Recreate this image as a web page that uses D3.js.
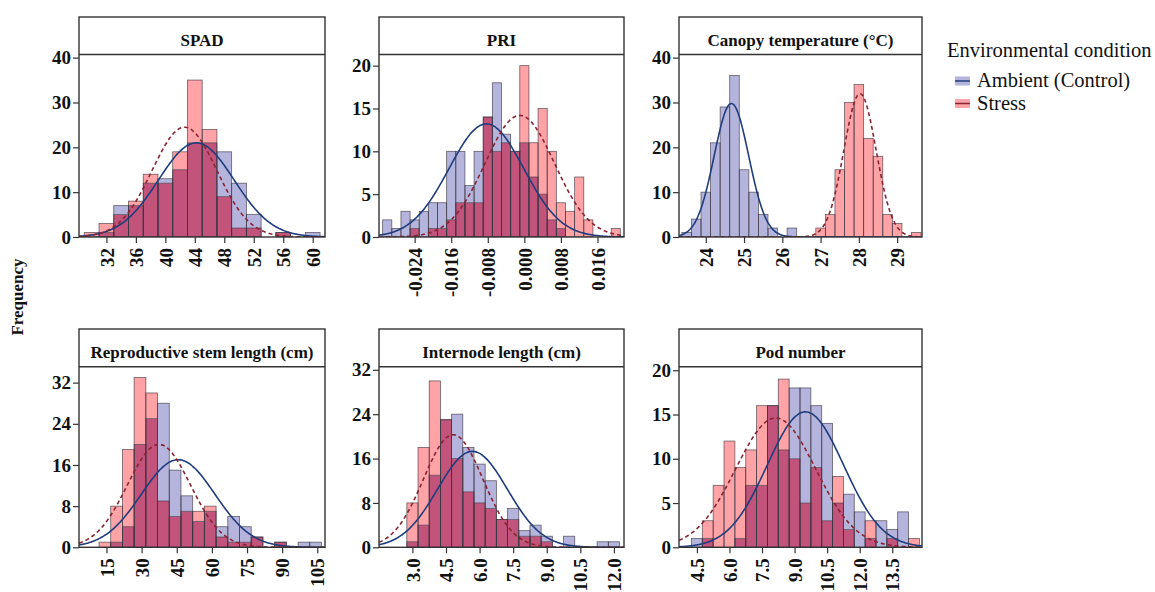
<!DOCTYPE html>
<html>
<head>
<meta charset="utf-8">
<script src="https://cdn.jsdelivr.net/npm/d3@7"></script>
<style>
  body { margin: 0; background: #fff; }
  svg { display: block; }
  text { font-family: "Liberation Serif", "DejaVu Serif", "Times New Roman", serif; }
</style>
</head>
<body>
<div id="chart"></div>
<script>
// ---- data ----
const titles = ['SPAD', 'PRI', 'Canopy temperature (°C)', 'Reproductive stem length (cm)', 'Internode length (cm)', 'Pod number'];
const groups = ['Ambient (Control)', 'Stress'];

// bins: first lower edge + width, then counts per bin
const spadStart = 29, spadWidth = 2;
const spadAmbient = [0, 1, 7, 7, 12, 13, 15, 21, 21, 19, 12, 5, 0, 1, 0, 1];
const spadStress  = [1, 3, 5, 8, 14, 12, 19, 35, 24, 9, 2, 2, 0, 1, 0, 0];
const spadTicks = [32, 36, 40, 44, 48, 52, 56, 60];
const spadYTicks = [0, 10, 20, 30, 40];
const spadFit = { ambient: [44.2, 5.13], stress: [42.6, 4.40] };

const priStart = -0.031, priWidth = 0.002;
const priAmbient = [2, 1, 3, 2, 3, 4, 4, 10, 10, 6, 10, 14, 18, 12, 10, 11, 7, 5, 2, 1, 0, 0, 0, 0, 0, 0];
const priStress  = [0, 0, 0, 1, 0, 1, 1, 2, 4, 4, 4, 14, 10, 11, 10, 20, 11, 15, 10, 4, 3, 7, 2, 0, 0, 1];
const priTicks = [-0.024, -0.016, -0.008, 0, 0.008, 0.016];
const priYTicks = [0, 5, 10, 15, 20];
const priFit = { ambient: [-0.0083, 0.00816], stress: [-0.001, 0.00759] };

const canopyStart = 23.375, canopyWidth = 0.25;
const canopyAmbient = [1, 4, 10, 21, 29, 36, 15, 10, 5, 2, 0, 2, 0, 0, 0, 0, 0, 0, 0, 0, 0, 0, 0, 0, 0];
const canopyStress  = [0, 0, 0, 0, 0, 0, 0, 0, 0, 0, 0, 0, 0, 0, 2, 5, 15, 30, 34, 22, 18, 5, 3, 0, 1];
const canopyTicks = [24, 25, 26, 27, 28, 29];
const canopyYTicks = [0, 10, 20, 30, 40];
const canopyFit = { ambient: [24.67, 0.452], stress: [28.03, 0.421] };

const stemStart = 11.8, stemWidth = 5;
const stemAmbient = [0, 1, 4, 20, 25, 28, 15, 10, 5, 7, 4, 6, 4, 2, 0, 1, 0, 1, 1];
const stemStress  = [1, 8, 19, 33, 30, 9, 6, 7, 7, 8, 2, 1, 1, 2, 0, 1, 0, 0, 0];
const stemTicks = [15, 30, 45, 60, 75, 90, 105];
const stemYTicks = [0, 8, 16, 24, 32];
const stemFit = { ambient: [45.6, 15.7], stress: [37.4, 13.46] };

const nodeStart = 2.75, nodeWidth = 0.5;
const nodeAmbient = [1, 4, 13, 23, 24, 18, 15, 12, 5, 7, 3, 4, 2, 0, 2, 0, 0, 1, 1];
const nodeStress  = [8, 18, 30, 23, 16, 10, 8, 7, 5, 5, 2, 2, 1, 0, 0, 0, 0, 0, 0];
const nodeTicks = [3.0, 4.5, 6.0, 7.5, 9.0, 10.5, 12.0];
const nodeYTicks = [0, 8, 16, 24, 32];
const nodeFit = { ambient: [5.68, 1.557], stress: [4.82, 1.327] };

const podStart = 4.25, podWidth = 0.5;
const podAmbient = [1, 1, 0, 0, 1, 7, 7, 16, 11, 18, 18, 16, 14, 5, 6, 4, 1, 3, 2, 4, 0];
const podStress  = [0, 3, 7, 12, 9, 11, 16, 16, 19, 10, 5, 9, 3, 8, 2, 0, 3, 0, 1, 0, 1];
const podTicks = [4.5, 6.0, 7.5, 9.0, 10.5, 12.0, 13.5];
const podYTicks = [0, 5, 10, 15, 20];
const podFit = { ambient: [9.5, 1.76], stress: [8.13, 1.844] };

// ---- layout ----
const W = 1155, H = 592;
const colX = [[79, 325], [379, 624], [679, 922]];
const rowY = [{ top: 17, head: 54.5, bottom: 237 }, { top: 329, head: 366.7, bottom: 547.3 }];
const C = { amb: '#b4b4dd', str: '#ffa3a6', both: '#c2537a', ambLine: '#1f3d7c', strLine: '#8a2433', edge: '#3a3440' };

const panels = [
  { title: titles[0], start: spadStart, width: spadWidth, amb: spadAmbient, str: spadStress, xt: spadTicks, yt: spadYTicks, fit: spadFit, xd: [28.28, 61.67], ymax: 40.7, fmt: d => d },
  { title: titles[1], start: priStart, width: priWidth, amb: priAmbient, str: priStress, xt: priTicks, yt: priYTicks, fit: priFit, xd: [-0.0318, 0.0218], ymax: 21.3, fmt: d => d.toFixed(3) },
  { title: titles[2], start: canopyStart, width: canopyWidth, amb: canopyAmbient, str: canopyStress, xt: canopyTicks, yt: canopyYTicks, fit: canopyFit, xd: [23.30, 29.65], ymax: 40.7, fmt: d => d },
  { title: titles[3], start: stemStart, width: stemWidth, amb: stemAmbient, str: stemStress, xt: stemTicks, yt: stemYTicks, fit: stemFit, xd: [3.26, 108.3], ymax: 35.1, fmt: d => d },
  { title: titles[4], start: nodeStart, width: nodeWidth, amb: nodeAmbient, str: nodeStress, xt: nodeTicks, yt: nodeYTicks, fit: nodeFit, xd: [1.507, 12.45], ymax: 32.56, fmt: d => d.toFixed(1) },
  { title: titles[5], start: podStart, width: podWidth, amb: podAmbient, str: podStress, xt: podTicks, yt: podYTicks, fit: podFit, xd: [3.676, 14.87], ymax: 20.4, fmt: d => d.toFixed(1) }
];

const svg = d3.select('#chart').append('svg').attr('width', W).attr('height', H).attr('viewBox', `0 0 ${W} ${H}`);
svg.append('rect').attr('width', W).attr('height', H).attr('fill', '#fff');

panels.forEach((p, i) => {
  const [x0, x1] = colX[i % 3];
  const R = rowY[Math.floor(i / 3)];
  const x = d3.scaleLinear().domain(p.xd).range([x0, x1]);
  const y = d3.scaleLinear().domain([0, p.ymax]).range([R.bottom, R.head]);
  const g = svg.append('g');

  const clipId = 'clip' + i;
  svg.append('clipPath').attr('id', clipId).append('rect')
    .attr('x', x0).attr('y', R.head).attr('width', x1 - x0).attr('height', R.bottom - R.head);
  const plot = g.append('g').attr('clip-path', `url(#${clipId})`);

  const bins = p.amb.map((a, k) => ({ lo: p.start + k * p.width, hi: p.start + (k + 1) * p.width, a, s: p.str[k] }));

  // filled parts: overlap, then the excess of whichever group is taller
  bins.forEach(b => {
    const m = Math.min(b.a, b.s), M = Math.max(b.a, b.s);
    if (m > 0) plot.append('rect').attr('x', x(b.lo)).attr('width', x(b.hi) - x(b.lo))
      .attr('y', y(m)).attr('height', y(0) - y(m)).attr('fill', C.both);
    if (M > m) plot.append('rect').attr('x', x(b.lo)).attr('width', x(b.hi) - x(b.lo))
      .attr('y', y(M)).attr('height', y(m) - y(M)).attr('fill', b.a > b.s ? C.amb : C.str);
  });
  // outlines of both groups
  ['a', 's'].forEach(key => {
    plot.selectAll(null).data(bins.filter(b => b[key] > 0)).enter().append('rect')
      .attr('x', b => x(b.lo)).attr('width', b => x(b.hi) - x(b.lo))
      .attr('y', b => y(b[key])).attr('height', b => y(0) - y(b[key]))
      .attr('fill', 'none').attr('stroke', C.edge).attr('stroke-width', 0.8).attr('stroke-opacity', 0.75);
  });

  // fitted normal curves
  const xs = d3.range(0, 241).map(t => p.xd[0] + (p.xd[1] - p.xd[0]) * t / 240);
  const curve = (n, [mu, sd]) => xs.map(v => [v, n * p.width / (sd * Math.sqrt(2 * Math.PI)) * Math.exp(-((v - mu) ** 2) / (2 * sd * sd))]);
  const line = d3.line().x(d => x(d[0])).y(d => y(d[1])).curve(d3.curveBasis);
  plot.append('path').attr('d', line(curve(d3.sum(p.amb), p.fit.ambient)))
    .attr('fill', 'none').attr('stroke', C.ambLine).attr('stroke-width', 1.6);
  plot.append('path').attr('d', line(curve(d3.sum(p.str), p.fit.stress)))
    .attr('fill', 'none').attr('stroke', C.strLine).attr('stroke-width', 1.6).attr('stroke-dasharray', '4,3');

  // axes
  const ya = g.append('g').attr('transform', `translate(${x0},0)`)
    .call(d3.axisLeft(y).tickValues(p.yt).tickSize(6).tickPadding(2));
  ya.select('.domain').remove();
  ya.selectAll('line').attr('stroke', '#333').attr('stroke-width', 1.2);
  ya.selectAll('text').attr('font-size', 19).attr('font-weight', 'bold').attr('fill', '#111');

  const xa = g.append('g').attr('transform', `translate(0,${R.bottom})`)
    .call(d3.axisBottom(x).tickValues(p.xt).tickSize(6).tickFormat(p.fmt));
  xa.select('.domain').remove();
  xa.selectAll('line').attr('stroke', '#333').attr('stroke-width', 1.2);
  xa.selectAll('text').attr('font-size', 19).attr('font-weight', 'bold').attr('fill', '#111')
    .attr('transform', 'rotate(-90)').attr('x', -11).attr('y', 0).attr('dy', '0.35em')
    .style('text-anchor', 'end');

  // frame and strip header
  g.append('rect').attr('x', x0).attr('y', R.top).attr('width', x1 - x0).attr('height', R.bottom - R.top)
    .attr('fill', 'none').attr('stroke', '#333').attr('stroke-width', 1.4);
  g.append('line').attr('x1', x0).attr('x2', x1).attr('y1', R.head).attr('y2', R.head)
    .attr('stroke', '#333').attr('stroke-width', 1.4);
  g.append('text').attr('x', (x0 + x1) / 2).attr('y', R.top + 29).attr('text-anchor', 'middle')
    .attr('font-size', 17).attr('font-weight', 'bold').attr('fill', '#111').text(p.title);
});

// y label
svg.append('text').attr('transform', 'translate(23,297) rotate(-90)').attr('text-anchor', 'middle')
  .attr('font-size', 17).attr('font-weight', 'bold').attr('fill', '#111').text('Frequency');

// legend
const lg = svg.append('g').attr('transform', 'translate(947,0)');
lg.append('text').attr('x', 0).attr('y', 57).attr('font-size', 20.5).attr('fill', '#111').text('Environmental condition');
const swF = [C.amb, C.str], swL = [C.ambLine, C.strLine];
groups.forEach((name, k) => {
  const cy = 81 + k * 22.5;
  lg.append('rect').attr('x', 8).attr('y', cy - 4.5).attr('width', 15).attr('height', 9).attr('fill', swF[k]);
  lg.append('line').attr('x1', 8).attr('x2', 23).attr('y1', cy).attr('y2', cy).attr('stroke', swL[k]).attr('stroke-width', 1.5);
  lg.append('text').attr('x', 30).attr('y', cy + 6).attr('font-size', 20.5).attr('fill', '#111').text(name);
});
</script>
</body>
</html>
